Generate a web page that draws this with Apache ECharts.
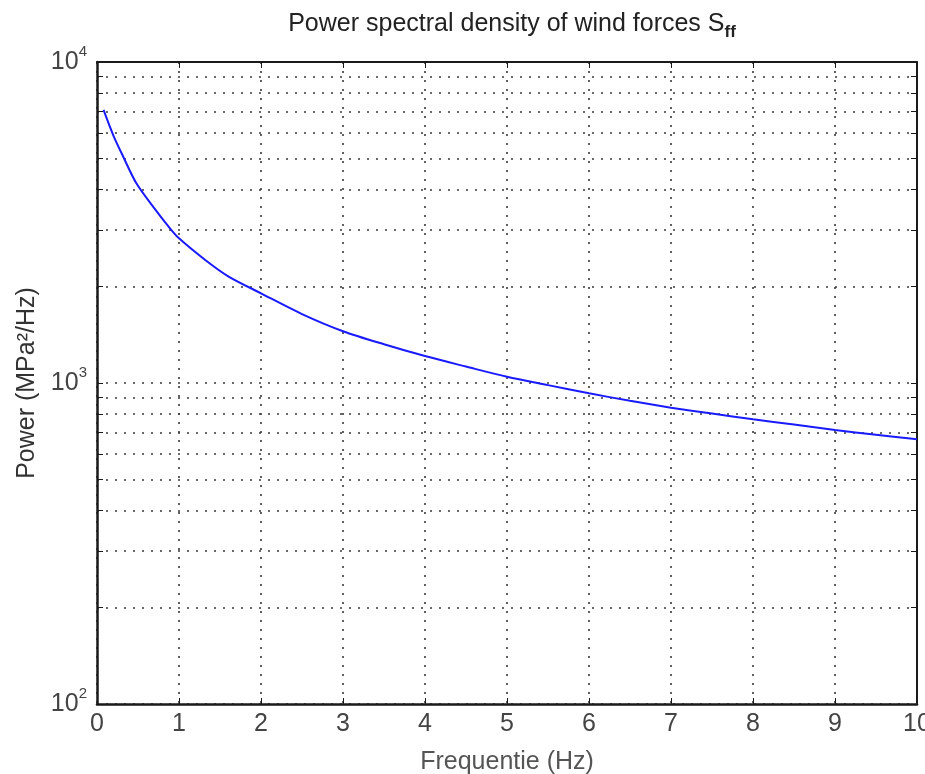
<!DOCTYPE html>
<html>
<head>
<meta charset="utf-8">
<script src="https://cdn.jsdelivr.net/npm/echarts@6/dist/echarts.min.js"></script>
<style>
  html, body { margin: 0; padding: 0; background: #fff; }
  #chart { width: 925px; height: 774px; }
</style>
</head>
<body>
<div id="chart"></div>
<script>
// Frequency (Hz) and power spectral density (MPa^2/Hz)
const frequency = [0.08, 0.2, 0.32, 0.48, 0.7, 0.89, 1.0, 1.32, 1.6, 2.0, 2.5, 3.0, 3.5, 4.0, 4.5, 5.0, 5.5, 6.0, 6.5, 7.0, 7.5, 8.0, 8.5, 9.0, 9.5, 10.0];
const power = [7090, 5900, 5070, 4190, 3500, 3033, 2823, 2417, 2150, 1903, 1640, 1450, 1320, 1213, 1125, 1046, 985, 929, 880, 838, 803, 771, 742, 714, 690, 668];

// Axis ticks
const xTicks = [0, 1, 2, 3, 4, 5, 6, 7, 8, 9, 10];
const yMajorTicks = [100, 1000, 10000];
const yAllTicks = [100, 200, 300, 400, 500, 600, 700, 800, 900,
                   1000, 2000, 3000, 4000, 5000, 6000, 7000, 8000, 9000, 10000];

const frameColor = '#1a1a1a';
const gridStyle = { color: '#3a3a3a', width: 1.6, type: [2, 7] };
const labelFont = 'Liberation Sans, Arial, sans-serif';

function powerLabel(v) {
  const exp = Math.round(Math.log10(v));
  return '{b|10}{s|' + exp + '}';
}

const chart = echarts.init(document.getElementById('chart'), null, { renderer: 'canvas' });

chart.setOption({
  backgroundColor: '#ffffff',
  animation: false,
  title: {
    text: '{a|Power spectral density of wind forces S}{sub|ff}',
    left: 507,
    textAlign: 'center',
    top: 3,
    textStyle: {
      rich: {
        a: { fontFamily: labelFont, fontSize: 25, color: '#222', fontWeight: 'normal' },
        sub: { fontFamily: labelFont, fontSize: 17, color: '#222', padding: [16, 0, 0, 0], fontWeight: 'bold' }
      }
    }
  },
  grid: { left: 97, right: 8, top: 62, bottom: 70, containLabel: false, outerBoundsMode: 'none' },
  xAxis: [
    {
      type: 'value',
      min: 0, max: 10, interval: 1,
      position: 'bottom',
      name: 'Frequentie (Hz)',
      nameLocation: 'middle',
      nameGap: 46,
      nameTextStyle: { fontFamily: labelFont, fontSize: 25, color: '#555' },
      axisLine: { show: true, onZero: false, lineStyle: { color: frameColor, width: 2.5 } },
      axisTick: { show: true, inside: true, length: 6, lineStyle: { color: frameColor } },
      axisLabel: { fontFamily: labelFont, fontSize: 25, color: '#444', margin: 8,
                   customValues: xTicks },
      splitLine: { show: true, lineStyle: gridStyle }
    },
    {
      type: 'value',
      min: 0, max: 10, interval: 1,
      position: 'top',
      axisLine: { show: true, onZero: false, lineStyle: { color: frameColor, width: 2 } },
      axisTick: { show: true, inside: true, length: 6, lineStyle: { color: frameColor } },
      axisLabel: { show: false },
      splitLine: { show: false }
    }
  ],
  yAxis: [
    {
      type: 'log',
      logBase: 10,
      min: 100, max: 10000,
      position: 'left',
      name: 'Power (MPa²/Hz)',
      nameLocation: 'middle',
      nameGap: 56,
      nameRotate: 90,
      nameTextStyle: { fontFamily: labelFont, fontSize: 25, color: '#333' },
      axisLine: { show: true, onZero: false, lineStyle: { color: frameColor, width: 2.5 } },
      axisTick: { show: true, inside: true, length: 6, lineStyle: { color: frameColor },
                  customValues: yAllTicks },
      axisLabel: {
        customValues: yMajorTicks,
        margin: 10,
        formatter: powerLabel,
        rich: {
          b: { fontFamily: labelFont, fontSize: 25, color: '#444' },
          s: { fontFamily: labelFont, fontSize: 15, color: '#444', padding: [0, 0, 20, 0] }
        }
      },
      splitLine: { show: true, lineStyle: gridStyle }
    },
    {
      type: 'log',
      logBase: 10,
      min: 100, max: 10000,
      position: 'right',
      axisLine: { show: true, onZero: false, lineStyle: { color: frameColor, width: 2 } },
      axisTick: { show: true, inside: true, length: 6, lineStyle: { color: frameColor },
                  customValues: yAllTicks },
      axisLabel: { show: false },
      splitLine: { show: false }
    }
  ],
  series: [
    {
      type: 'line',
      xAxisIndex: 0,
      yAxisIndex: 0,
      data: frequency.map((f, i) => [f, power[i]]),
      smooth: 0.3,
      showSymbol: false,
      lineStyle: { color: '#1a1aff', width: 2 }
    }
  ]
});
</script>
</body>
</html>
